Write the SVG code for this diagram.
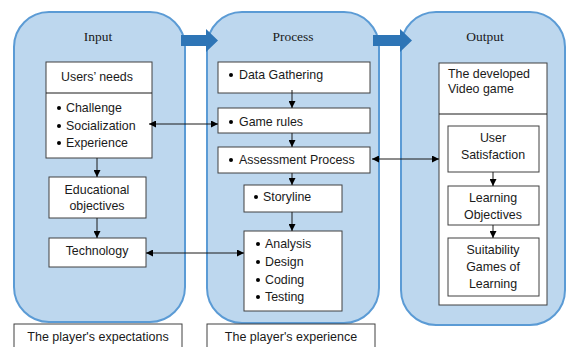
<svg xmlns="http://www.w3.org/2000/svg" width="567" height="347" viewBox="0 0 567 347">
<style>
.panel{fill:#bdd7ee;stroke:#5b9bd5;stroke-width:2}
.box{fill:#fff;stroke:#404040;stroke-width:1}
.t{font-family:"Liberation Sans",Arial,sans-serif;font-size:12.4px;fill:#1a1a1a}
.c{text-anchor:middle}
.title{font-family:"Liberation Serif","Times New Roman",serif;font-size:13.5px;fill:#1a1a1a;text-anchor:middle}
.cap{font-family:"Liberation Sans",Arial,sans-serif;font-size:12.5px;fill:#1a1a1a;text-anchor:middle}
.ln{stroke:#1a1a1a;stroke-width:1;fill:none}
.blk{fill:#2e75b6}
.dot{fill:#000}
</style>
<defs>
<marker id="ah" viewBox="0 0 8 8" refX="8" refY="4" markerWidth="7" markerHeight="7" markerUnits="userSpaceOnUse" orient="auto-start-reverse">
<path d="M0,0 L8,4 L0,8 z" fill="#000"/>
</marker>
</defs>

<g id="panel-input">
<rect class="panel" x="14" y="12" width="171" height="310" rx="35" ry="35"/>
<text class="title" x="98" y="41">Input</text>
</g>
<g id="panel-process">
<rect class="panel" x="207" y="12" width="172" height="311" rx="35" ry="35"/>
<text class="title" x="293" y="41">Process</text>
</g>
<g id="panel-output">
<rect class="panel" x="401" y="12" width="164" height="313" rx="35" ry="35"/>
<text class="title" x="485" y="41">Output</text>
</g>

<g id="flow-arrows">
<path class="blk" d="M181,35 L206,35 L206,29 L218,40.5 L206,52 L206,46 L181,46 z"/>
<path class="blk" d="M373,35 L400,35 L400,29 L412,40.5 L400,52 L400,46 L373,46 z"/>
</g>

<g id="users-needs">
<rect class="box" x="46" y="62" width="106" height="96"/>
<line class="ln" x1="46" y1="93" x2="152" y2="93"/>
<text class="t c" x="97" y="81">Users’ needs</text>
<circle class="dot" cx="59" cy="108" r="2"/>
<text class="t" x="66" y="112">Challenge</text>
<circle class="dot" cx="59" cy="126" r="2"/>
<text class="t" x="66" y="130">Socialization</text>
<circle class="dot" cx="59" cy="143" r="2"/>
<text class="t" x="66" y="147">Experience</text>
</g>
<g id="educational-objectives">
<rect class="box" x="49" y="177" width="97" height="41"/>
<text class="t c" x="97" y="194">Educational</text>
<text class="t c" x="97" y="210">objectives</text>
</g>
<g id="technology">
<rect class="box" x="49" y="238" width="97" height="29"/>
<text class="t c" x="97" y="255">Technology</text>
</g>
<g id="player-expectations">
<rect class="box" x="14" y="324" width="168" height="30"/>
<text class="cap" x="98" y="341">The player's expectations</text>
</g>

<g id="data-gathering">
<rect class="box" x="218" y="62" width="152" height="31"/>
<circle class="dot" cx="231" cy="75" r="2"/>
<text class="t" x="239" y="79">Data Gathering</text>
</g>
<g id="game-rules">
<rect class="box" x="218" y="108" width="152" height="25"/>
<circle class="dot" cx="231" cy="122" r="2"/>
<text class="t" x="239" y="126">Game rules</text>
</g>
<g id="assessment-process">
<rect class="box" x="218" y="147" width="152" height="26"/>
<circle class="dot" cx="231" cy="160" r="2"/>
<text class="t" x="239" y="164">Assessment Process</text>
</g>
<g id="storyline">
<rect class="box" x="244" y="185" width="98" height="27"/>
<circle class="dot" cx="256" cy="197" r="2"/>
<text class="t" x="263" y="201">Storyline</text>
</g>
<g id="development">
<rect class="box" x="244" y="231" width="98" height="80"/>
<circle class="dot" cx="258" cy="244" r="2"/>
<text class="t" x="265" y="248">Analysis</text>
<circle class="dot" cx="258" cy="262" r="2"/>
<text class="t" x="265" y="266">Design</text>
<circle class="dot" cx="258" cy="280" r="2"/>
<text class="t" x="265" y="284">Coding</text>
<circle class="dot" cx="258" cy="297" r="2"/>
<text class="t" x="265" y="301">Testing</text>
</g>
<g id="player-experience">
<rect class="box" x="207" y="324" width="168" height="30"/>
<text class="cap" x="291" y="341">The player's experience</text>
</g>

<g id="developed-video-game">
<rect class="box" x="439" y="63" width="108" height="242"/>
<line class="ln" x1="439" y1="114" x2="547" y2="114"/>
<text class="t" x="448" y="78">The developed</text>
<text class="t" x="448" y="93">Video game</text>
</g>
<g id="user-satisfaction">
<rect class="box" x="448" y="126" width="91" height="46"/>
<text class="t c" x="493" y="142">User</text>
<text class="t c" x="493" y="159">Satisfaction</text>
</g>
<g id="learning-objectives">
<rect class="box" x="448" y="186" width="91" height="39"/>
<text class="t c" x="493" y="202">Learning</text>
<text class="t c" x="493" y="219">Objectives</text>
</g>
<g id="suitability">
<rect class="box" x="448" y="238" width="91" height="58"/>
<text class="t c" x="493" y="254">Suitability</text>
<text class="t c" x="493" y="271">Games of</text>
<text class="t c" x="493" y="288">Learning</text>
</g>

<g id="connectors">
<line class="ln" x1="97" y1="158" x2="97" y2="177" marker-end="url(#ah)"/>
<line class="ln" x1="97" y1="218" x2="97" y2="238" marker-end="url(#ah)"/>
<line class="ln" x1="292" y1="90" x2="292" y2="108" marker-end="url(#ah)"/>
<line class="ln" x1="292" y1="133" x2="292" y2="147" marker-end="url(#ah)"/>
<line class="ln" x1="292" y1="173" x2="292" y2="185" marker-end="url(#ah)"/>
<line class="ln" x1="292" y1="212" x2="292" y2="231" marker-end="url(#ah)"/>
<line class="ln" x1="493" y1="172" x2="493" y2="186" marker-end="url(#ah)"/>
<line class="ln" x1="493" y1="225" x2="493" y2="238" marker-end="url(#ah)"/>
<line class="ln" x1="149" y1="124" x2="218" y2="124" marker-start="url(#ah)" marker-end="url(#ah)"/>
<line class="ln" x1="372" y1="159" x2="439" y2="159" marker-start="url(#ah)" marker-end="url(#ah)"/>
<line class="ln" x1="146" y1="253" x2="244" y2="253" marker-start="url(#ah)" marker-end="url(#ah)"/>
</g>
</svg>
